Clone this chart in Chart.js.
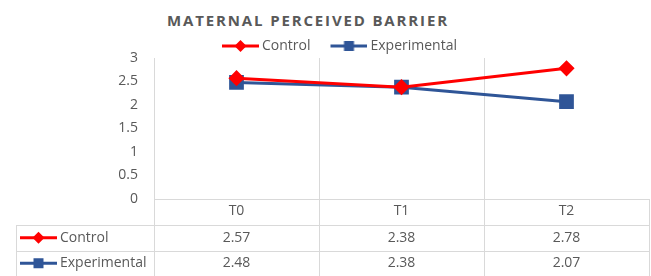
<!DOCTYPE html>
<html>
<head>
<meta charset="utf-8">
<script src="https://cdn.jsdelivr.net/npm/chart.js@4.4.1/dist/chart.umd.min.js"></script>
<style>
  body { margin: 0; background: #fff; }
  #wrap { position: relative; width: 651px; height: 276px; }
  #title {
    position: absolute; left: 0; top: 10px; width: 616px;
    text-align: center; font: bold 15px "Open Sans"; letter-spacing: 1.85px; color: #595959;
  }
  canvas { position: absolute; left: 0; top: 0; }
</style>
</head>
<body>
<div id="wrap">
  <div id="title">MATERNAL PERCEIVED BARRIER</div>
  <canvas id="chart" width="651" height="276"></canvas>
</div>
<script>
const categories = ['T0', 'T1', 'T2'];
const controlValues = [2.57, 2.38, 2.78];
const experimentalValues = [2.48, 2.38, 2.07];
const yTicks = [0, 0.5, 1, 1.5, 2, 2.5, 3];

const RED = '#FF0000';
const BLUE = '#2F5597';
const TEXT = '#595959';
const GRID = '#D9D9D9';
const KEY_BOX = 43;

Chart.defaults.font.family = '"Open Sans"';
Chart.defaults.font.size = 14;
Chart.defaults.color = TEXT;

// little "line with marker" picture used as legend key
function drawKey(ctx, x, y, w, color, style) {
  ctx.save();
  ctx.strokeStyle = color;
  ctx.fillStyle = color;
  ctx.lineWidth = 3;
  ctx.beginPath();
  ctx.moveTo(x, y);
  ctx.lineTo(x + w, y);
  ctx.stroke();
  const cx = x + w / 2;
  ctx.beginPath();
  if (style === 'diamond') {
    ctx.moveTo(cx, y - 6);
    ctx.lineTo(cx + 6, y);
    ctx.lineTo(cx, y + 6);
    ctx.lineTo(cx - 6, y);
    ctx.closePath();
  } else {
    ctx.rect(cx - 5, y - 5, 10, 10);
  }
  ctx.fill();
  ctx.restore();
}

// canvas is centred on the legend box, key sits at its right end so the text follows closely
function keyCanvas(color, style) {
  const c = document.createElement('canvas');
  c.width = KEY_BOX + 8;
  c.height = 14;
  drawKey(c.getContext('2d'), c.width - 37, 7, 37, color, style);
  return c;
}

const keys = [keyCanvas(RED, 'diamond'), keyCanvas(BLUE, 'square')];

const tablePlugin = {
  id: 'dataTable',
  afterLayout(chart) {
    // nudge the legend the way Excel places it
    chart.legend.left += 10;
    chart.legend.right += 10;
    chart.legend.top += 5;
    chart.legend.bottom += 5;
  },
  afterDraw(chart) {
    const ctx = chart.ctx;
    const x = chart.scales.x;
    const area = chart.chartArea;
    const half = (x.getPixelForValue(1) - x.getPixelForValue(0)) / 2;
    const left = 16;
    const right = x.getPixelForValue(categories.length - 1) + half;
    const headBottom = area.bottom + 26;
    const rowH = 25.5;
    const bottom = headBottom + rowH * 2;

    ctx.save();
    ctx.strokeStyle = GRID;
    ctx.lineWidth = 1;
    ctx.beginPath();
    for (let i = 0; i <= categories.length; i++) {
      const px = Math.round(x.getPixelForValue(i) - half) + 0.5;
      ctx.moveTo(px, area.bottom);
      ctx.lineTo(px, bottom);
    }
    ctx.moveTo(left + 0.5, headBottom);
    ctx.lineTo(left + 0.5, bottom);
    for (let r = 0; r <= 2; r++) {
      const py = Math.round(headBottom + r * rowH) + 0.5;
      ctx.moveTo(left, py);
      ctx.lineTo(right + 1, py);
    }
    ctx.stroke();

    const rows = [
      { label: 'Control', values: controlValues, color: RED, style: 'diamond' },
      { label: 'Experimental', values: experimentalValues, color: BLUE, style: 'square' }
    ];
    ctx.font = '14px "Open Sans"';
    ctx.textBaseline = 'middle';
    rows.forEach((row, r) => {
      const cy = headBottom + r * rowH + rowH / 2;
      drawKey(ctx, 20, cy, 37, row.color, row.style);
      ctx.fillStyle = TEXT;
      ctx.textAlign = 'left';
      ctx.fillText(row.label, 60, cy);
      ctx.textAlign = 'center';
      row.values.forEach((v, i) => {
        ctx.fillText(v.toFixed(2), x.getPixelForValue(i), cy);
      });
    });
    ctx.restore();
  }
};

new Chart(document.getElementById('chart'), {
  type: 'line',
  data: {
    labels: categories,
    datasets: [
      {
        label: 'Control',
        data: controlValues,
        borderColor: RED,
        backgroundColor: RED,
        borderWidth: 3,
        pointStyle: 'rectRot',
        pointRadius: 6,
        pointHoverRadius: 6,
        tension: 0
      },
      {
        label: 'Experimental',
        data: experimentalValues,
        borderColor: BLUE,
        backgroundColor: BLUE,
        borderWidth: 3,
        pointStyle: 'rect',
        pointRadius: 8.3,
        pointHoverRadius: 8.3,
        tension: 0
      }
    ]
  },
  options: {
    responsive: false,
    animation: false,
    layout: { autoPadding: false, padding: { top: 24, right: 2, bottom: 51, left: 0 } },
    plugins: {
      title: { display: false },
      tooltip: { enabled: false },
      legend: {
        position: 'top',
        labels: {
          usePointStyle: true,
          pointStyleWidth: KEY_BOX,
          padding: 10,
          color: TEXT,
          font: { size: 14 },
          generateLabels(chart) {
            return chart.data.datasets.map((ds, i) => ({
              text: ds.label,
              pointStyle: keys[i],
              fontColor: TEXT,
              lineWidth: 0,
              datasetIndex: i
            }));
          }
        }
      }
    },
    scales: {
      x: {
        offset: true,
        grid: {
          offset: true,
          drawTicks: false,
          color: c => (c.index === undefined ? 'rgba(0,0,0,0)' : GRID)
        },
        border: { display: true, color: GRID },
        ticks: { padding: 4, color: TEXT },
        afterFit(s) {
          s.height = 26;
          s.paddingLeft = 0;
          s.paddingRight = 0;
        }
      },
      y: {
        min: 0,
        max: 3,
        grid: { display: false },
        border: { display: false },
        ticks: { padding: 8, color: TEXT, callback: v => String(v) },
        afterBuildTicks(s) { s.ticks = yTicks.map(v => ({ value: v })); },
        afterFit(s) { s.width = 154; }
      }
    }
  },
  plugins: [tablePlugin]
});
</script>
</body>
</html>
